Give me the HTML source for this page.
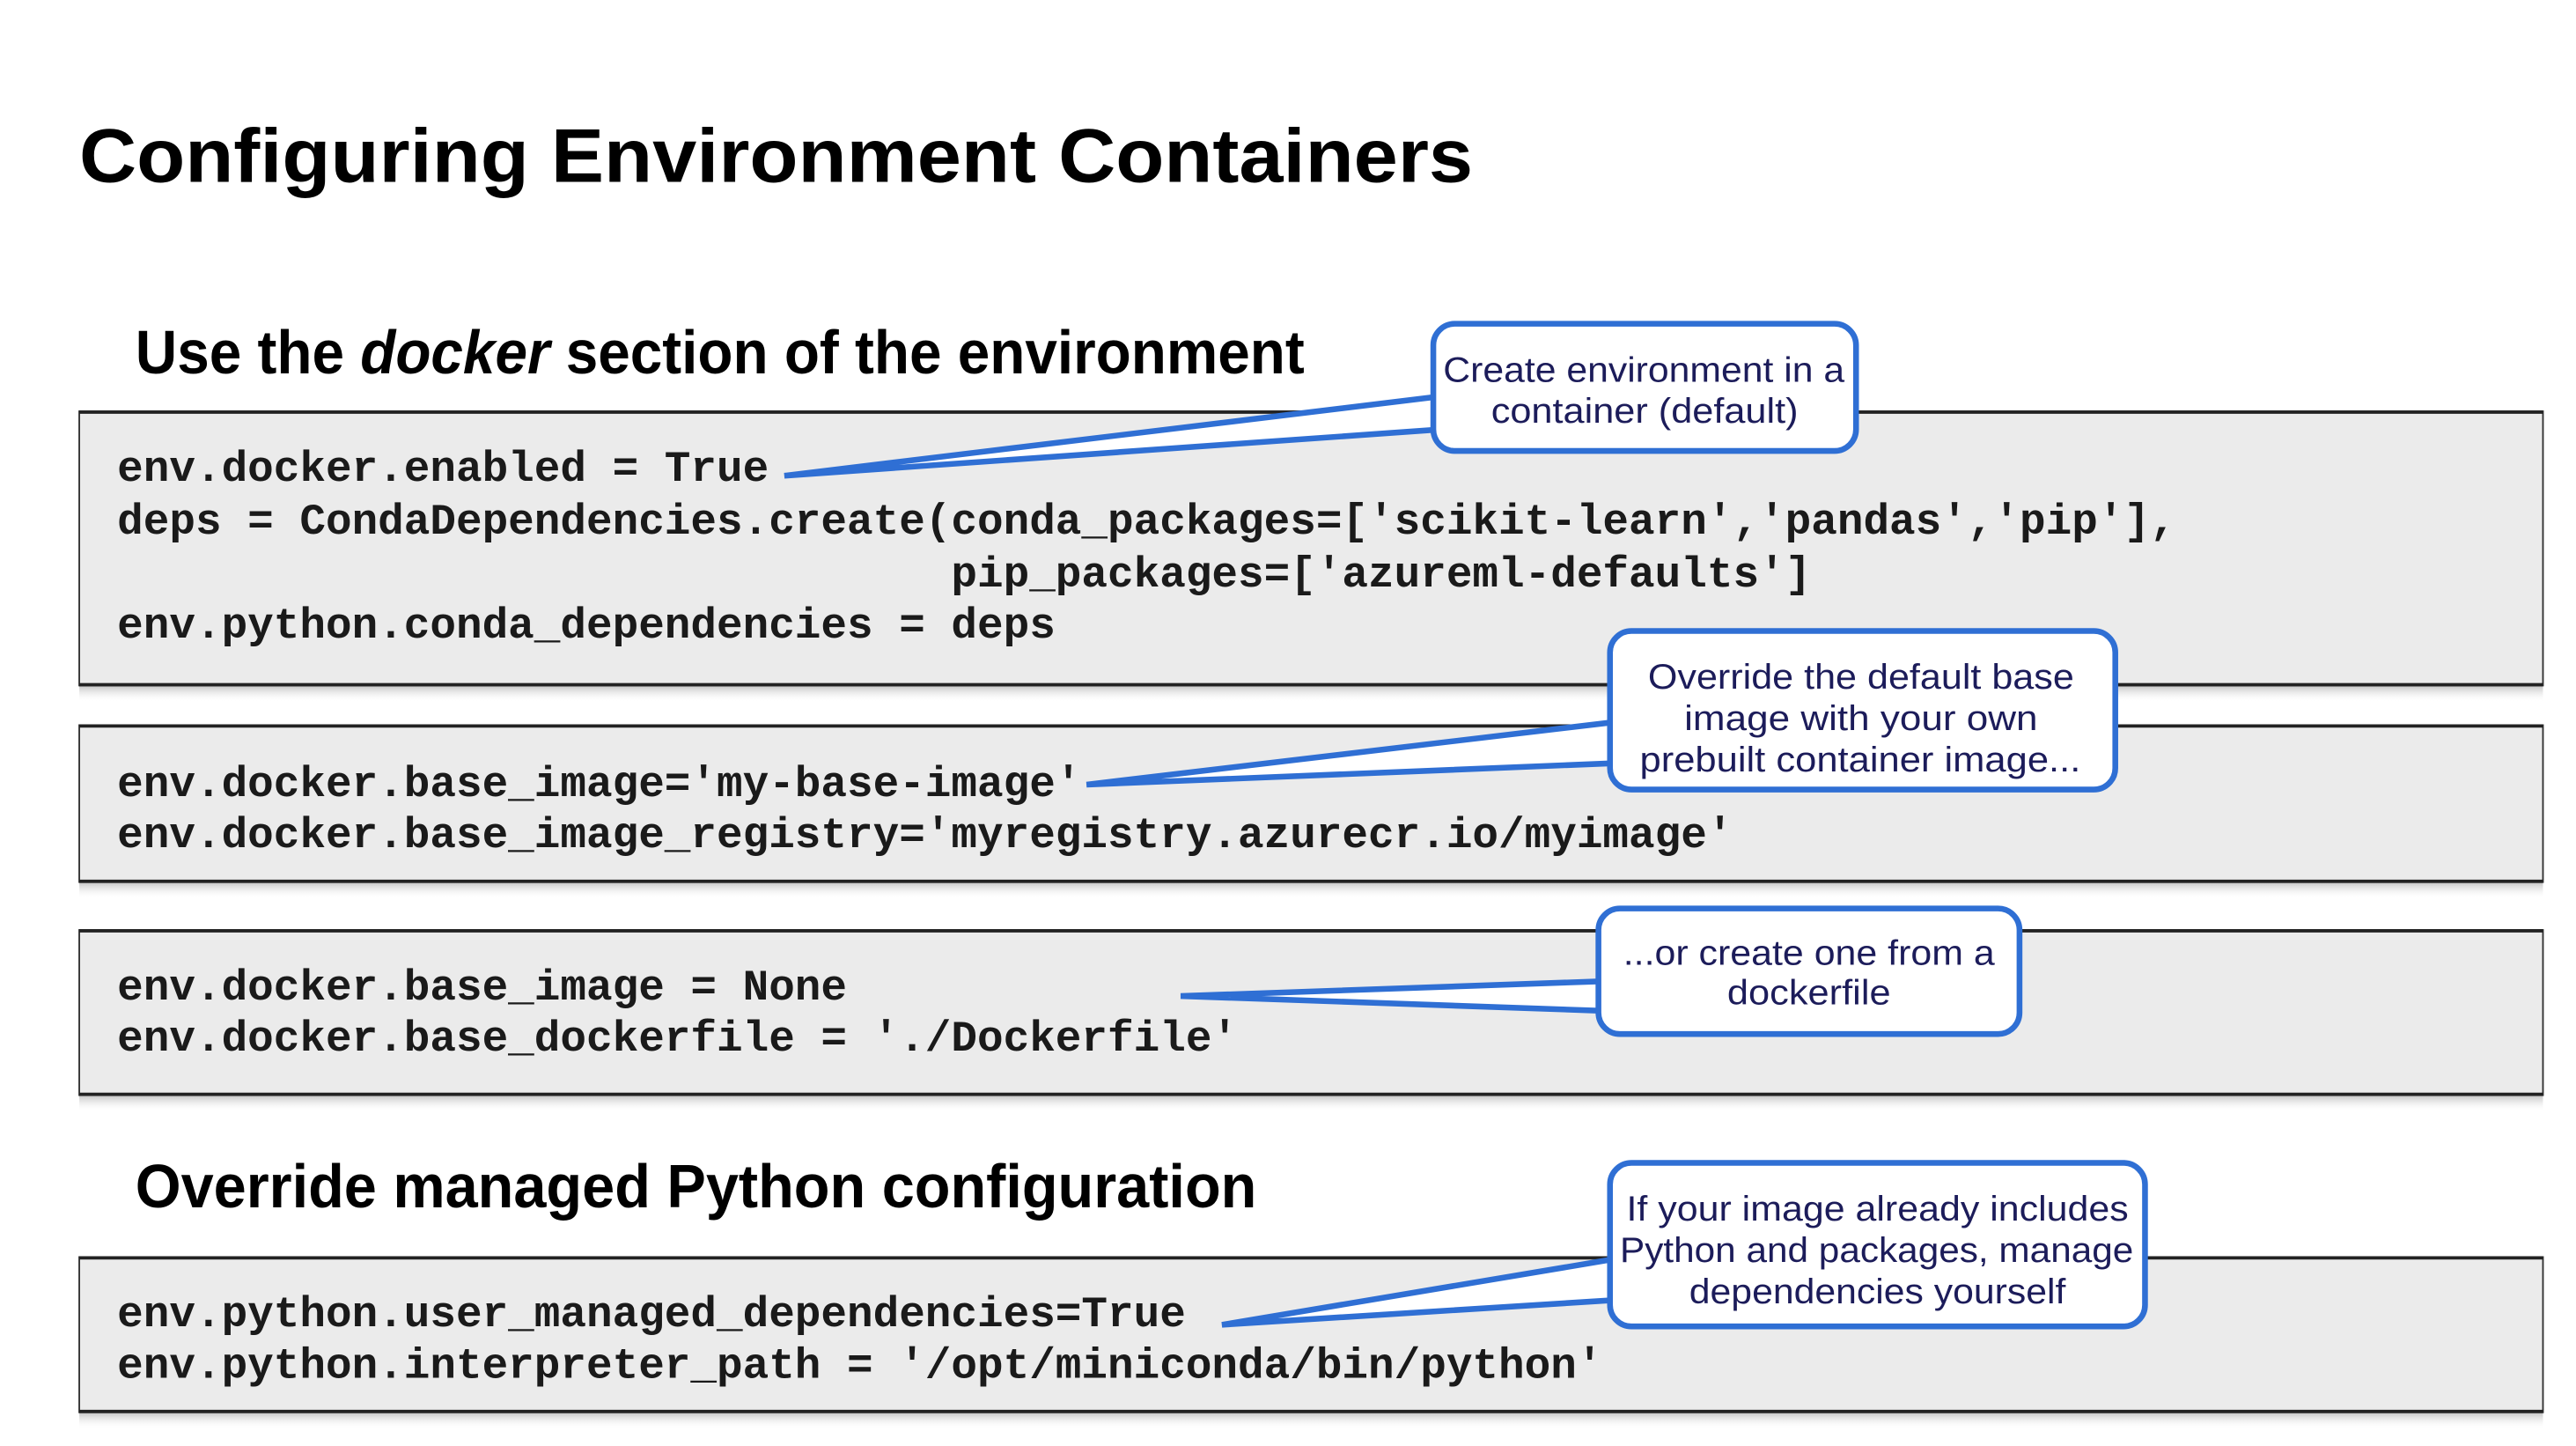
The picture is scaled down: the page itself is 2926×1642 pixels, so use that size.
<!DOCTYPE html>
<html><head><meta charset="utf-8"><style>
html,body{margin:0;padding:0;background:#fff;}
svg{display:block;}
.code{font-family:"Liberation Mono",monospace;font-weight:bold;font-size:26.3px;fill:#1a1a1a;white-space:pre;}
.co{font-family:"Liberation Sans",sans-serif;font-size:21px;fill:#1c1c5a;}
.h{font-family:"Liberation Sans",sans-serif;fill:#000;font-weight:bold;}
</style></head><body>
<svg width="2926" height="1642" viewBox="0 0 1560 875.4" preserveAspectRatio="none" xmlns="http://www.w3.org/2000/svg">
<defs>
<linearGradient id="sh" x1="0" y1="0" x2="0" y2="1"><stop offset="0" stop-color="#999" stop-opacity="0.6"/><stop offset="1" stop-color="#fff" stop-opacity="0"/></linearGradient>
</defs>
<rect width="1560" height="876" fill="#fff"/>
<text class="h" x="48" y="110" font-size="46" textLength="844" lengthAdjust="spacingAndGlyphs">Configuring Environment Containers</text>
<text class="h" x="82" y="226" font-size="37" textLength="708" lengthAdjust="spacingAndGlyphs">Use the <tspan font-style="italic">docker</tspan> section of the environment</text>
<text class="h" x="82" y="731" font-size="37" textLength="679" lengthAdjust="spacingAndGlyphs">Override managed Python configuration</text>

<g>
<rect x="48" y="415" width="1492" height="10" fill="url(#sh)"/>
<rect x="48" y="249" width="1492" height="166" fill="#ebebeb" stroke="#333" stroke-width="1"/>
<line x1="48" y1="249.5" x2="1540" y2="249.5" stroke="#222" stroke-width="2"/>
<line x1="48" y1="414.5" x2="1540" y2="414.5" stroke="#222" stroke-width="2"/>

<rect x="48" y="534" width="1492" height="10" fill="url(#sh)"/>
<rect x="48" y="439" width="1492" height="95" fill="#ebebeb" stroke="#333" stroke-width="1"/>
<line x1="48" y1="439.5" x2="1540" y2="439.5" stroke="#222" stroke-width="2"/>
<line x1="48" y1="533.5" x2="1540" y2="533.5" stroke="#222" stroke-width="2"/>

<rect x="48" y="663" width="1492" height="10" fill="url(#sh)"/>
<rect x="48" y="563" width="1492" height="100" fill="#ebebeb" stroke="#333" stroke-width="1"/>
<line x1="48" y1="563.5" x2="1540" y2="563.5" stroke="#222" stroke-width="2"/>
<line x1="48" y1="662.5" x2="1540" y2="662.5" stroke="#222" stroke-width="2"/>

<rect x="48" y="855" width="1492" height="10" fill="url(#sh)"/>
<rect x="48" y="761" width="1492" height="94" fill="#ebebeb" stroke="#333" stroke-width="1"/>
<line x1="48" y1="761.5" x2="1540" y2="761.5" stroke="#222" stroke-width="2"/>
<line x1="48" y1="854.5" x2="1540" y2="854.5" stroke="#222" stroke-width="2"/>
</g>

<text class="code" x="71" y="291">env.docker.enabled = True</text>
<text class="code" x="71" y="323">deps = CondaDependencies.create(conda_packages=['scikit-learn','pandas','pip'],</text>
<text class="code" x="71" y="355">                                pip_packages=['azureml-defaults']</text>
<text class="code" x="71" y="386">env.python.conda_dependencies = deps</text>

<text class="code" x="71" y="482">env.docker.base_image='my-base-image'</text>
<text class="code" x="71" y="513">env.docker.base_image_registry='myregistry.azurecr.io/myimage'</text>

<text class="code" x="71" y="605">env.docker.base_image = None</text>
<text class="code" x="71" y="636">env.docker.base_dockerfile = './Dockerfile'</text>

<text class="code" x="71" y="803">env.python.user_managed_dependencies=True</text>
<text class="code" x="71" y="834">env.python.interpreter_path = '/opt/miniconda/bin/python'</text>

<g stroke="#2f6fd4" stroke-width="3.5" fill="#fff" stroke-linejoin="miter">
<polygon points="872,240 475,288 872,260"/>
<rect x="868" y="196" width="256" height="77" rx="13"/>
<polygon points="979,437 658,475 979,462"/>
<rect x="975" y="382" width="306" height="96" rx="13"/>
<polygon points="972,594 715,603 972,612"/>
<rect x="968" y="550" width="255" height="76" rx="13"/>
<polygon points="979,762 740,802 979,787"/>
<rect x="975" y="704" width="324" height="99" rx="13"/>
</g>
<g class="co">
<text x="874" y="231" textLength="243" lengthAdjust="spacingAndGlyphs">Create environment in a</text>
<text x="903" y="256" textLength="186" lengthAdjust="spacingAndGlyphs">container (default)</text>
<text x="998" y="417" textLength="258" lengthAdjust="spacingAndGlyphs">Override the default base</text>
<text x="1020" y="442" textLength="214" lengthAdjust="spacingAndGlyphs">image with your own</text>
<text x="993" y="467" textLength="267" lengthAdjust="spacingAndGlyphs">prebuilt container image...</text>
<text x="983" y="584" textLength="225" lengthAdjust="spacingAndGlyphs">...or create one from a</text>
<text x="1046" y="608" textLength="99" lengthAdjust="spacingAndGlyphs">dockerfile</text>
<text x="985" y="739" textLength="304" lengthAdjust="spacingAndGlyphs">If your image already includes</text>
<text x="981" y="764" textLength="311" lengthAdjust="spacingAndGlyphs">Python and packages, manage</text>
<text x="1023" y="789" textLength="228" lengthAdjust="spacingAndGlyphs">dependencies yourself</text>
</g>
</svg>
</body></html>
